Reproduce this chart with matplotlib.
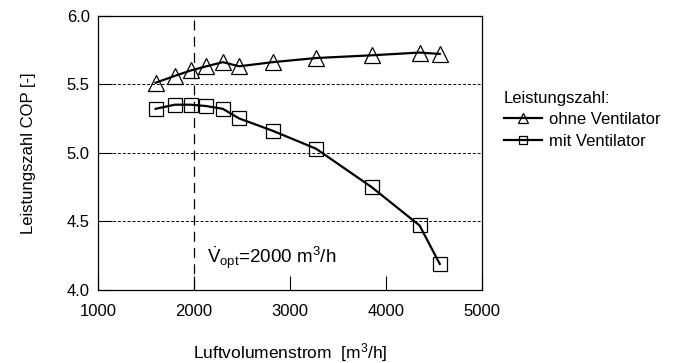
import matplotlib
matplotlib.use("Agg")
import matplotlib.pyplot as plt

plt.rcParams['font.family'] = ['Liberation Sans', 'DejaVu Sans']
plt.rcParams['mathtext.fontset'] = 'custom'
plt.rcParams['mathtext.rm'] = 'Liberation Sans'
plt.rcParams['mathtext.it'] = 'Liberation Sans'

# Daten
volumenstrom = [1600, 1800, 1970, 2130, 2300, 2470, 2820, 3270, 3850, 4350, 4560]
cop_ohne = [5.51, 5.56, 5.60, 5.63, 5.66, 5.63, 5.66, 5.69, 5.71, 5.73, 5.72]
cop_mit = [5.32, 5.35, 5.35, 5.34, 5.32, 5.25, 5.16, 5.03, 4.75, 4.47, 4.19]
v_opt = 2000

fig = plt.figure(figsize=(6.79, 3.63), dpi=100)
ax = fig.add_axes([98/679, 1-290/363, (482-98)/679, (290-15.5)/363])

ax.plot(volumenstrom, cop_ohne, color='black', lw=1.6, marker='^', ms=11,
        mfc='none', mec='black', mew=0.9, label='ohne Ventilator')
ax.plot(volumenstrom, cop_mit, color='black', lw=1.6, marker='s', ms=10,
        mfc='none', mec='black', mew=0.9, label='mit Ventilator')

for y in [4.5, 5.0, 5.5]:
    ax.axhline(y, color='black', lw=0.7, ls=(0, (3, 2)), zorder=0)
ax.axvline(v_opt, color='black', lw=0.9, ls=(0, (8, 5)), zorder=0)

ax.set_xlim(1000, 5000)
ax.set_ylim(4.0, 6.0)
ax.set_xticks([1000, 2000, 3000, 4000, 5000])
ax.set_yticks([4.0, 4.5, 5.0, 5.5, 6.0])
ax.set_yticklabels(['4.0', '4.5', '5.0', '5.5', '6.0'])
ax.tick_params(axis='x', direction='in', length=10, labelsize=12, pad=10)
ax.tick_params(axis='y', direction='in', length=10, labelsize=12, pad=6)
for s in ax.spines.values():
    s.set_linewidth(0.9)

ax.text(2140, 4.2, r'$\dot{\mathrm{V}}_{\mathrm{opt}}$=2000 m$^3$/h', fontsize=13.5)

ax.set_xlabel(r'Luftvolumenstrom  [m$^3$/h]', fontsize=12.5, labelpad=16)
ax.set_ylabel('Leistungszahl COP [-]', fontsize=12, labelpad=22)

ax.legend(title='Leistungszahl:', loc='center left', bbox_to_anchor=(1.04, 0.62),
          frameon=False, fontsize=12, title_fontsize=12, handlelength=2.3,
          handletextpad=0.4, borderaxespad=0, labelspacing=0.4,
          markerscale=0.6, alignment='left')

fig.savefig('out.png', dpi=100)
